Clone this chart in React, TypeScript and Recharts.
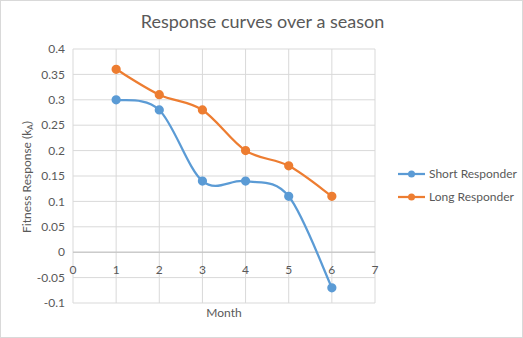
import React from 'react';
import {
  LineChart, Line, XAxis, YAxis, CartesianGrid, ReferenceLine,
} from 'recharts';

const MONTHS = [1, 2, 3, 4, 5, 6];
const SHORT_RESPONDER = [0.3, 0.28, 0.14, 0.14, 0.11, -0.07];
const LONG_RESPONDER = [0.36, 0.31, 0.28, 0.2, 0.17, 0.11];
const X_TICKS = [0, 1, 2, 3, 4, 5, 6, 7];
const Y_TICKS = [-0.1, -0.05, 0, 0.05, 0.1, 0.15, 0.2, 0.25, 0.3, 0.35, 0.4];

const rows = MONTHS.map((m, i) => ({
  month: m,
  short: SHORT_RESPONDER[i],
  long: LONG_RESPONDER[i],
}));

const W = 523;
const H = 338;
const PLOT_TOP = 49;
const PLOT_BOTTOM = 303;
const PLOT_LEFT = 73;
const PLOT_RIGHT = 375;
const Y_MIN = -0.1;
const Y_MAX = 0.4;
const FONT = 'Lato, "Open Sans", sans-serif';
const TEXT = '#595959';
const GRID = '#D9D9D9';
const BLUE = '#5B9BD5';
const ORANGE = '#ED7D31';

// pixel distance from plot bottom up to the y=0 line
const zeroOffset = ((0 - Y_MIN) / (Y_MAX - Y_MIN)) * (PLOT_BOTTOM - PLOT_TOP);

// Excel-like smoothed line (uniform Catmull-Rom as cubic beziers)
const excelSmooth = (context: any) => {
  let pts: [number, number][] = [];
  return {
    areaStart() {},
    areaEnd() {},
    lineStart() { pts = []; },
    point(x: number, y: number) { pts.push([+x, +y]); },
    lineEnd() {
      if (!pts.length) return;
      context.moveTo(pts[0][0], pts[0][1]);
      for (let i = 0; i < pts.length - 1; i++) {
        const p0 = pts[Math.max(i - 1, 0)];
        const p1 = pts[i];
        const p2 = pts[i + 1];
        const p3 = pts[Math.min(i + 2, pts.length - 1)];
        context.bezierCurveTo(
          p1[0] + (p2[0] - p0[0]) / 6, p1[1] + (p2[1] - p0[1]) / 6,
          p2[0] - (p3[0] - p1[0]) / 6, p2[1] - (p3[1] - p1[1]) / 6,
          p2[0], p2[1],
        );
      }
    },
  };
};

const XTick = ({ x, y, payload }: any) => (
  <text x={x} y={y - zeroOffset + 4} textAnchor="middle" dominantBaseline="hanging"
    fill={TEXT} fontSize={12} fontFamily={FONT}>
    {payload.value}
  </text>
);

const YLabel = () => (
  <text transform={`translate(27, ${(PLOT_TOP + PLOT_BOTTOM) / 2}) rotate(-90)`}
    textAnchor="middle" dominantBaseline="middle" fill={TEXT} fontSize={12} fontFamily={FONT}>
    Fitness Response (k<tspan fontSize={8} dy={3}>A</tspan><tspan dy={-3}>)</tspan>
  </text>
);

const LEGEND = [
  { name: 'Short Responder', color: BLUE },
  { name: 'Long Responder', color: ORANGE },
];

export default function App() {
  return (
    <div style={{ position: 'absolute', left: 0, top: 0, width: W, height: H, background: '#fff',
      boxSizing: 'border-box', border: `1px solid ${GRID}` }}>
      <div style={{ position: 'absolute', top: 9, left: 0, width: W, textAlign: 'center',
        fontFamily: FONT, fontSize: 18, color: TEXT }}>
        Response curves over a season
      </div>
      <div style={{ position: 'absolute', left: 0, top: 0 }}>
        <LineChart width={W - 2} height={H - 2} data={rows}
          margin={{ top: PLOT_TOP - 1, right: W - PLOT_RIGHT - 1, bottom: 0, left: 0 }}>
          <CartesianGrid stroke={GRID} strokeWidth={1} />
          <XAxis dataKey="month" type="number" domain={[0, 7]} ticks={X_TICKS}
            height={H - PLOT_BOTTOM - 1} axisLine={false} tickLine={false} tick={<XTick />}
            interval={0}
            label={{ value: 'Month', position: 'insideBottom', offset: 20, fill: TEXT, fontSize: 12, fontFamily: FONT }} />
          <YAxis type="number" domain={[Y_MIN, Y_MAX]} ticks={Y_TICKS} width={PLOT_LEFT - 1}
            axisLine={false} tickLine={false} interval={0}
            tick={{ fill: TEXT, fontSize: 12, fontFamily: FONT }}
            tickFormatter={(v: number) => String(+v.toFixed(2))}
            label={<YLabel />} />
          <ReferenceLine y={0} stroke="#BFBFBF" strokeWidth={1} />
          <Line type={excelSmooth as any} dataKey="short" name="Short Responder" stroke={BLUE}
            strokeWidth={2.25} dot={{ r: 3.5, fill: BLUE, stroke: BLUE }} isAnimationActive={false} />
          <Line type={excelSmooth as any} dataKey="long" name="Long Responder" stroke={ORANGE}
            strokeWidth={2.25} dot={{ r: 3.5, fill: ORANGE, stroke: ORANGE }} isAnimationActive={false} />
        </LineChart>
      </div>
      <div style={{ position: 'absolute', left: 397, top: 161, fontFamily: FONT, fontSize: 12, color: TEXT }}>
        {LEGEND.map(s => (
          <div key={s.name} style={{ display: 'flex', alignItems: 'center', height: 23 }}>
            <svg width={28} height={10} style={{ marginRight: 3 }}>
              <line x1={0} y1={5} x2={27} y2={5} stroke={s.color} strokeWidth={2.25} />
              <circle cx={13.5} cy={5} r={3.5} fill={s.color} />
            </svg>
            {s.name}
          </div>
        ))}
      </div>
    </div>
  );
}
